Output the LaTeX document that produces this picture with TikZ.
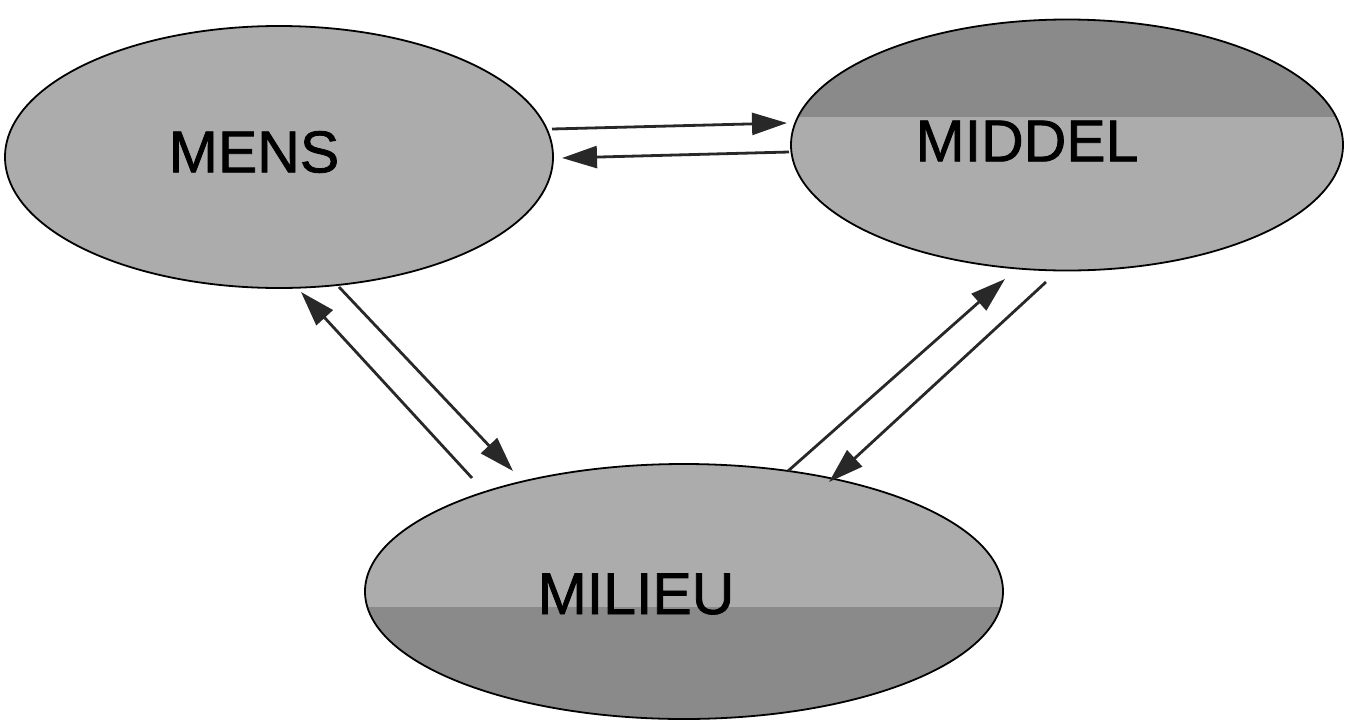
\documentclass[tikz,border=0pt]{standalone}
\usepackage{fontspec}
\setmainfont{Liberation Sans}
\newfontfamily\lblfont[FakeBold=1.3]{Liberation Sans}
\usetikzlibrary{shapes.geometric,arrows.meta}
\definecolor{shadeL}{RGB}{172,172,172}
\definecolor{shadeD}{RGB}{138,138,138}
\definecolor{arrowC}{RGB}{40,40,40}
\begin{document}
\begin{tikzpicture}[x=1pt,y=-1pt,
  blob/.style={ellipse, draw=black, line width=1.8pt, fill=shadeL, inner sep=0pt},
  lbl/.style={font=\lblfont\fontsize{59}{60}\selectfont, inner sep=0pt, text=black},
  conn/.style={draw=arrowC, line width=2.8pt, -{Triangle[length=35pt,width=22pt]}}
]
\useasboundingbox (0,0) rectangle (1354,723);

\node[blob, minimum width=548pt, minimum height=262pt] (mens) at (279,157) {};
\node[blob, minimum width=552pt, minimum height=251pt,
  path picture={\fill[shadeD] (path picture bounding box.north west) rectangle ([yshift=28pt]path picture bounding box.east);}]
  (middel) at (1067,145) {};
\node[blob, minimum width=638pt, minimum height=255pt,
  path picture={\fill[shadeD] ([yshift=-15.5pt]path picture bounding box.west) rectangle (path picture bounding box.south east);}]
  (milieu) at (684,591.5) {};

\node[lbl] (mensT) at (254,152) {MENS};
\node[lbl] (middelT) at (1027,141) {MIDDEL};
\node[lbl] (milieuT) at (636,594) {MILIEU};

\coordinate (a1s) at (552,129); \coordinate (a1e) at (787,123);
\coordinate (a2s) at (789,152); \coordinate (a2e) at (562,158);
\coordinate (b1s) at (472,478); \coordinate (b1e) at (301,292);
\coordinate (b2s) at (339,287); \coordinate (b2e) at (513,471);
\coordinate (c1s) at (788,471); \coordinate (c1e) at (1005,279);
\coordinate (c2s) at (1046,282); \coordinate (c2e) at (829,482);

\draw[conn] (a1s) -- (a1e);
\draw[conn] (a2s) -- (a2e);
\draw[conn] (b1s) -- (b1e);
\draw[conn] (b2s) -- (b2e);
\draw[conn] (c1s) -- (c1e);
\draw[conn] (c2s) -- (c2e);
\end{tikzpicture}
\end{document}
